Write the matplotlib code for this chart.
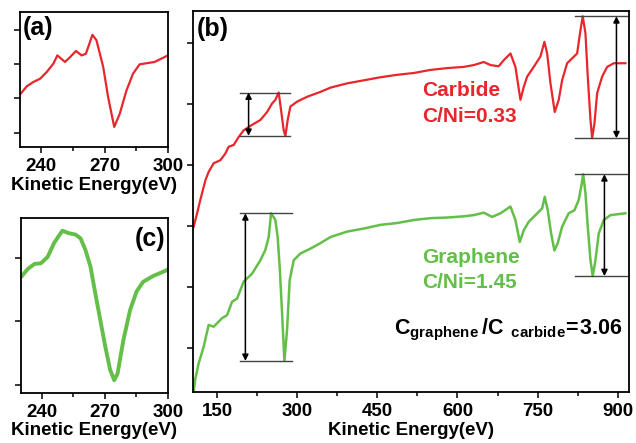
import numpy as np
import matplotlib
matplotlib.use("Agg")
import matplotlib.pyplot as plt
from matplotlib.ticker import MultipleLocator

plt.rcParams['font.family'] = ['Liberation Sans', 'DejaVu Sans']
plt.rcParams['font.weight'] = 'bold'
plt.rcParams['mathtext.fontset'] = 'custom'
plt.rcParams['mathtext.rm'] = 'Liberation Sans:bold'
plt.rcParams['mathtext.bf'] = 'Liberation Sans:bold'

RED = '#e8262b'
GREEN = '#63bf48'

# ---- panel (a): carbide C KLL zoom ----
a_energy = [230.4, 233.2, 236.4, 239.5, 242.7, 245.8, 247.7, 251.3, 253.7, 256.5, 259.2,
            261.2, 264.3, 266.2, 269.4, 271.7, 274.6, 277.2, 280.4, 283.5, 286.6, 290.6,
            293.7, 300.0]
a_signal = [2.14, 2.35, 2.48, 2.57, 2.77, 3.01, 3.25, 3.06, 3.20, 3.38, 3.25,
            3.30, 3.85, 3.69, 2.91, 2.04, 1.17, 1.55, 2.23, 2.72, 2.99, 3.03,
            3.06, 3.25]

# ---- panel (c): graphene C KLL zoom ----
c_energy = [230.4, 233.2, 236.4, 239.5, 242.7, 245.8, 249.7, 252.9, 256.0, 258.4, 260.7,
            263.1, 265.4, 267.8, 270.2, 272.5, 274.4, 276.0, 278.8, 282.0, 285.1, 288.2,
            292.9, 300.0]
c_signal = [2.71, 2.82, 2.90, 2.91, 3.01, 3.23, 3.42, 3.38, 3.36, 3.30, 3.12,
            2.86, 2.44, 2.02, 1.60, 1.24, 1.08, 1.18, 1.71, 2.18, 2.47, 2.62,
            2.71, 2.81]

# ---- panel (b): full spectra ----
carbide_energy = [106.2, 112.6, 118.7, 128.1, 134.3, 143.6, 156.2, 165.5, 171.7, 181.1, 190.4,
                  199.8, 215.5, 231.1, 243.6, 253.0, 259.1, 265.3, 269.8, 274.7, 277.9, 282.2,
                  287.2, 299.8, 318.5, 343.4, 362.2, 393.4, 424.6, 455.8, 487.0, 518.2, 549.4,
                  580.6, 611.8, 630.5, 649.2, 661.7, 677.0, 686.6, 699.1, 708.4, 717.8, 724.0,
                  730.3, 742.7, 755.2, 762.7, 767.8, 774.0, 782.0, 789.5, 795.8, 805.2, 814.6,
                  823.9, 830.1, 834.4, 839.5, 843.8, 848.9, 852.0, 856.3, 861.4, 870.7, 880.1,
                  892.5, 914.3]
carbide_signal = [2.99, 3.21, 3.43, 3.75, 3.89, 4.03, 4.08, 4.19, 4.30, 4.33, 4.46,
                  4.57, 4.66, 4.74, 4.87, 5.01, 5.07, 5.19, 4.90, 4.57, 4.48, 4.74,
                  4.96, 5.04, 5.12, 5.20, 5.27, 5.34, 5.39, 5.44, 5.48, 5.51, 5.56,
                  5.59, 5.61, 5.64, 5.69, 5.64, 5.62, 5.72, 5.83, 5.61, 5.07, 5.28,
                  5.45, 5.61, 5.78, 6.02, 5.83, 5.34, 4.87, 5.07, 5.39, 5.67, 5.75,
                  5.83, 6.21, 6.44, 6.16, 5.45, 4.74, 4.44, 4.68, 5.18, 5.45, 5.61,
                  5.67, 5.67]

graphene_energy = [106.2, 109.4, 115.6, 124.9, 134.3, 143.6, 159.4, 168.7, 178.1, 187.4, 199.8,
                   215.5, 231.1, 240.4, 246.6, 251.1, 259.1, 263.4, 267.2, 271.7, 276.0, 281.0,
                   285.9, 293.4, 305.9, 324.7, 343.4, 362.2, 393.4, 424.6, 455.8, 487.0, 518.2,
                   549.4, 580.6, 611.8, 630.5, 649.2, 664.8, 680.4, 699.1, 708.4, 716.5, 724.0,
                   733.3, 745.9, 758.4, 763.3, 768.9, 775.2, 781.4, 787.6, 795.8, 808.2, 818.9,
                   826.9, 832.0, 835.2, 839.5, 843.8, 848.9, 853.1, 858.2, 864.4, 873.8, 886.3,
                   914.3]
graphene_signal = [0.28, 0.50, 0.75, 1.02, 1.38, 1.35, 1.49, 1.54, 1.76, 1.81, 2.09,
                   2.22, 2.44, 2.61, 2.82, 3.21, 3.10, 2.82, 2.33, 1.57, 0.79, 1.30,
                   2.11, 2.44, 2.55, 2.63, 2.72, 2.82, 2.91, 2.96, 3.02, 3.05, 3.10,
                   3.13, 3.14, 3.16, 3.18, 3.22, 3.15, 3.21, 3.32, 3.10, 2.74, 2.93,
                   3.07, 3.18, 3.29, 3.48, 3.26, 2.88, 2.60, 2.72, 2.99, 3.21, 3.26,
                   3.43, 3.67, 3.85, 3.54, 2.99, 2.44, 2.18, 2.44, 2.88, 3.10, 3.18,
                   3.21]

# peak-to-peak brackets: (x_start, x_end, arrow_x, y_top, y_bottom)
brackets = [
    (193.6, 287.2, 209.0, 5.19, 4.48),
    (820.7, 917.6, 897.5, 6.44, 4.44),
    (193.6, 290.3, 203.0, 3.21, 0.79),
    (820.7, 918.0, 875.0, 3.85, 2.18),
]

fig = plt.figure(figsize=(6.36, 4.43), dpi=100)
ax_a = fig.add_axes([0.0314, 0.668, 0.2326, 0.305])
ax_c = fig.add_axes([0.033, 0.113, 0.231, 0.395])
ax_b = fig.add_axes([0.3035, 0.115, 0.6855, 0.860])

TICK_FS = 13.5


def style(ax):
    for s in ax.spines.values():
        s.set_linewidth(1.3)
    ax.tick_params(axis='both', which='both', direction='out', width=1.1,
                   labelsize=TICK_FS, pad=4)
    ax.tick_params(axis='both', which='major', length=4)
    ax.tick_params(axis='x', which='minor', length=3)
    ax.tick_params(axis='y', labelleft=False)
    for lab in ax.get_xticklabels():
        lab.set_fontweight('bold')
    ax.set_xlabel('Kinetic Energy(eV)', fontsize=TICK_FS, fontweight='bold', labelpad=1)


ax_a.plot(a_energy, a_signal, color=RED, lw=1.6, solid_joinstyle='round')
ax_a.set_xlim(230, 300)
ax_a.set_ylim(0.583, 4.515)
ax_a.xaxis.set_major_locator(MultipleLocator(30))
ax_a.xaxis.set_minor_locator(MultipleLocator(15))
ax_a.set_yticks([1, 2, 3, 4])
style(ax_a)
ax_a.text(0.02, 0.97, '(a)', transform=ax_a.transAxes, fontsize=18, fontweight='bold',
          va='top', ha='left')

ax_c.plot(c_energy, c_signal, color=GREEN, lw=2.8, solid_joinstyle='round')
ax_c.set_xlim(230, 300)
ax_c.set_ylim(0.88, 3.62)
ax_c.xaxis.set_major_locator(MultipleLocator(30))
ax_c.xaxis.set_minor_locator(MultipleLocator(15))
ax_c.set_yticks([1, 2, 3])
style(ax_c)
ax_c.text(0.98, 0.95, '(c)', transform=ax_c.transAxes, fontsize=18, fontweight='bold',
          va='top', ha='right')

ax_b.plot(carbide_energy, carbide_signal, color=RED, lw=1.6, solid_joinstyle='round')
ax_b.plot(graphene_energy, graphene_signal, color=GREEN, lw=1.8, solid_joinstyle='round')
ax_b.set_xlim(105, 921)
ax_b.set_ylim(0.279, 6.525)
ax_b.xaxis.set_minor_locator(MultipleLocator(75))
ax_b.set_xticks([150, 300, 450, 600, 750, 900])
ax_b.set_yticks([1, 2, 3, 4, 5, 6])
style(ax_b)
ax_b.text(0.008, 0.985, '(b)', transform=ax_b.transAxes, fontsize=18, fontweight='bold',
          va='top', ha='left')

for x0, x1, xa, yt, yb in brackets:
    ax_b.plot([x0, x1], [yt, yt], color='#444444', lw=1.0, clip_on=False)
    ax_b.plot([x0, x1], [yb, yb], color='#444444', lw=1.0, clip_on=False)
    ax_b.annotate('', xy=(xa, yt), xytext=(xa, yb),
                  arrowprops=dict(arrowstyle='<|-|>', color='black', lw=1.1,
                                  mutation_scale=9, shrinkA=0, shrinkB=0))

ax_b.text(533.8, 5.23, 'Carbide', color=RED, fontsize=15, fontweight='bold',
          ha='left', va='center')
ax_b.text(533.8, 4.79, 'C/Ni=0.33', color=RED, fontsize=15, fontweight='bold',
          ha='left', va='center')
ax_b.text(533.8, 2.48, 'Graphene', color=GREEN, fontsize=15, fontweight='bold',
          ha='left', va='center')
ax_b.text(533.8, 2.07, 'C/Ni=1.45', color=GREEN, fontsize=15, fontweight='bold',
          ha='left', va='center')
ax_b.text(481.0, 1.30,
          r'$\mathbf{C}_{\mathbf{graphene}}\,\mathbf{/C}\ _{\mathbf{carbide}}\!\mathbf{=}\!\mathbf{3.06}$',
          color='black', fontsize=15.5, ha='left', va='center')

fig.savefig('out.png', dpi=100)
